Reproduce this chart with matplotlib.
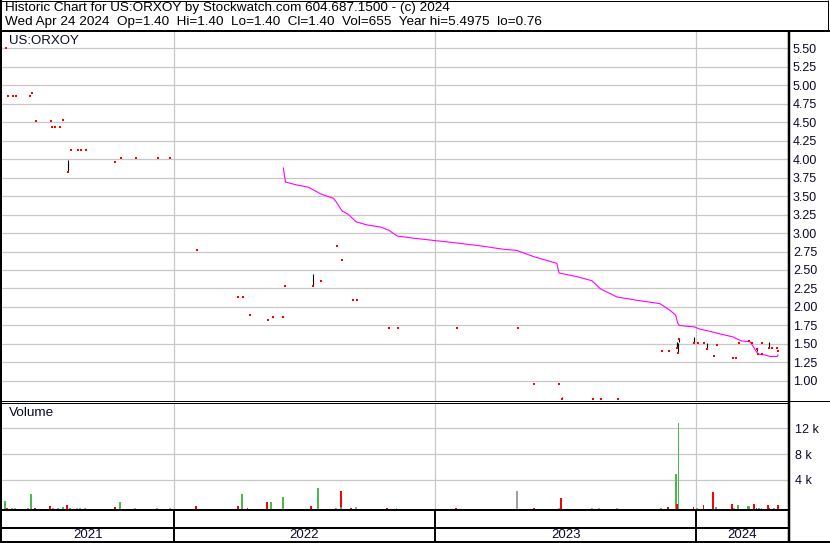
import numpy as np
import pandas as pd
import matplotlib
matplotlib.use("Agg")
import matplotlib.pyplot as plt
from matplotlib.lines import Line2D

plt.rcParams['font.family'] = ['Liberation Sans', 'DejaVu Sans']

# ---- data ----
close_dates = [
    '2021-05-12', '2021-05-14', '2021-05-21', '2021-05-26', '2021-06-14', '2021-06-17',
    '2021-06-23', '2021-07-13', '2021-07-15', '2021-07-19', '2021-07-26', '2021-07-30',
    '2021-08-06', '2021-08-10', '2021-08-20', '2021-08-24', '2021-08-31', '2021-10-11',
    '2021-10-19', '2021-11-09', '2021-12-10', '2021-12-27',
    '2022-02-03', '2022-04-01', '2022-04-08', '2022-04-18', '2022-05-13', '2022-05-19',
    '2022-06-03', '2022-06-06', '2022-07-14', '2022-07-25', '2022-08-17', '2022-08-24',
    '2022-09-08', '2022-09-14', '2022-10-28', '2022-11-10',
    '2023-01-31', '2023-04-27', '2023-05-19', '2023-06-23', '2023-06-27', '2023-08-10',
    '2023-08-21', '2023-09-14', '2023-11-14', '2023-11-24', '2023-12-05', '2023-12-06',
    '2023-12-08', '2023-12-29',
    '2024-01-03', '2024-01-12', '2024-01-16', '2024-01-25', '2024-01-30', '2024-02-21',
    '2024-02-26', '2024-03-01', '2024-03-15', '2024-03-19', '2024-03-25', '2024-03-27',
    '2024-04-01', '2024-04-02', '2024-04-11', '2024-04-15', '2024-04-22', '2024-04-24',
]
close_prices = [
    5.4975, 4.86, 4.86, 4.86, 4.86, 4.90,
    4.52, 4.51, 4.44, 4.44, 4.44, 4.53,
    3.83, 4.13, 4.13, 4.13, 4.13, 3.96,
    4.01, 4.01, 4.01, 4.01,
    2.77, 2.13, 2.13, 1.89, 1.82, 1.87,
    1.87, 2.29, 2.28, 2.35, 2.82, 2.64,
    2.09, 2.09, 1.72, 1.72,
    1.71, 1.71, 0.96, 0.96, 0.76, 0.76,
    0.76, 0.76, 1.41, 1.41, 1.44, 1.38,
    1.57, 1.51,
    1.51, 1.51, 1.43, 1.34, 1.48, 1.31,
    1.31, 1.51, 1.54, 1.51, 1.43, 1.36,
    1.36, 1.51, 1.45, 1.44, 1.44, 1.40,
]

range_dates = ['2021-08-06', '2022-07-14', '2023-06-27', '2023-12-05', '2023-12-06',
               '2023-12-08', '2023-12-29', '2024-01-16', '2024-03-25', '2024-04-11']
range_high = [3.99, 2.45, 0.78, 1.52, 1.51, 1.57, 1.60, 1.51, 1.45, 1.52]
range_low = [3.83, 2.28, 0.76, 1.44, 1.38, 1.52, 1.51, 1.43, 1.40, 1.45]

ma_dates = [
    '2022-06-03', '2022-06-06', '2022-06-22', '2022-07-08', '2022-07-15', '2022-07-25',
    '2022-08-12', '2022-08-17', '2022-08-24', '2022-09-02', '2022-09-13', '2022-09-28',
    '2022-10-17', '2022-10-28', '2022-11-09', '2022-12-02', '2022-12-30',
    '2023-01-27', '2023-03-03', '2023-04-07', '2023-04-25', '2023-05-19', '2023-06-20',
    '2023-06-23', '2023-07-18', '2023-08-08', '2023-08-20', '2023-09-12', '2023-10-10',
    '2023-11-11', '2023-11-25', '2023-12-03', '2023-12-06', '2023-12-08', '2023-12-18',
    '2023-12-29',
    '2024-01-06', '2024-01-20', '2024-02-03', '2024-02-21', '2024-02-26', '2024-03-04',
    '2024-03-16', '2024-03-20', '2024-03-25', '2024-03-28', '2024-04-06', '2024-04-13',
    '2024-04-23', '2024-04-24',
]
ma_values = [
    3.88, 3.69, 3.65, 3.62, 3.585, 3.53,
    3.47, 3.405, 3.30, 3.25, 3.15, 3.11,
    3.08, 3.04, 2.96, 2.93, 2.90,
    2.87, 2.83, 2.78, 2.765, 2.68, 2.59,
    2.46, 2.41, 2.355, 2.245, 2.135, 2.09,
    2.045, 1.955, 1.89, 1.78, 1.75, 1.74,
    1.73,
    1.70, 1.67, 1.635, 1.595, 1.57, 1.54,
    1.53, 1.47, 1.39, 1.36, 1.35, 1.33,
    1.33, 1.35,
]

vol_dates = [
    '2021-05-10', '2021-05-13', '2021-05-20', '2021-05-24', '2021-06-11', '2021-06-16',
    '2021-06-21', '2021-07-12', '2021-07-16', '2021-07-23', '2021-07-30', '2021-08-05',
    '2021-08-09', '2021-08-19', '2021-08-23', '2021-08-30', '2021-10-11', '2021-10-18',
    '2021-11-08', '2021-12-08', '2021-12-27',
    '2022-02-01', '2022-04-01', '2022-04-06', '2022-04-14', '2022-05-11', '2022-05-17',
    '2022-06-02', '2022-06-03', '2022-07-12', '2022-07-22', '2022-08-16', '2022-08-22',
    '2022-08-23', '2022-09-06', '2022-09-13', '2022-10-26', '2022-11-08',
    '2023-01-30', '2023-04-25', '2023-05-19', '2023-06-23', '2023-06-26', '2023-08-08',
    '2023-08-18', '2023-09-12', '2023-11-13', '2023-11-22', '2023-12-04', '2023-12-05',
    '2023-12-07', '2023-12-28',
    '2024-01-02', '2024-01-11', '2024-01-24', '2024-01-29', '2024-02-20', '2024-02-23',
    '2024-02-28', '2024-03-13', '2024-03-14', '2024-03-15', '2024-03-22', '2024-03-25',
    '2024-03-28', '2024-04-01', '2024-04-10', '2024-04-12', '2024-04-19', '2024-04-24',
]
vol_values = [
    1240, 200, 200, 200, 200, 2330,
    200, 470, 200, 200, 310, 620,
    200, 200, 200, 200, 360, 1130,
    200, 200, 200,
    510, 510, 2330, 200, 1130, 1130,
    880, 1860, 510, 3300, 200, 2840,
    310, 200, 360, 200, 200,
    200, 2840, 200, 200, 1750, 200,
    200, 200, 200, 360, 5430, 820,
    13380, 310,
    200, 620, 2680, 310, 820, 200,
    620, 470, 470, 470, 780, 200,
    200, 200, 620, 200, 200, 655,
]
# u = closed up, d = closed down, n = unchanged
vol_dir = (
    list('udnnnuddnnudunnndunnn')   # 2021
    + list('dduddunuduududndn')     # 2022
    + list('dndndnnnududud')        # 2023
    + list('nddudnuududduuddnd')    # 2024
)

years = ['2021', '2022', '2023', '2024']
price_ticks = np.arange(1.0, 5.51, 0.25)
vol_ticks = [4000, 8000, 12000]
vol_tick_labels = ['4 k', '8 k', '12 k']

header1 = "Historic Chart for US:ORXOY by Stockwatch.com 604.687.1500 - (c) 2024"
header2 = "Wed Apr 24 2024  Op=1.40  Hi=1.40  Lo=1.40  Cl=1.40  Vol=655  Year hi=5.4975  lo=0.76"

# ---- layout (pixels) ----
W, H = 830, 543
TXT = '#0a0a2a'
GRID = '#c8c8c8'
dir_color = {'u': '#4cb84c', 'd': '#ff0000', 'n': '#a0a0a0'}
x_start, x_end = pd.Timestamp('2021-05-06'), pd.Timestamp('2024-05-08')
vol_floor = -570


def rect(x0, y0, x1, y1):
    return [x0 / W, 1 - y1 / H, (x1 - x0) / W, (y1 - y0) / H]


def fig_line(fig, x0, y0, x1, y1, lw):
    fig.add_artist(Line2D([x0 / W, x1 / W], [1 - y0 / H, 1 - y1 / H],
                          transform=fig.transFigure, color='black', lw=lw * 0.72,
                          solid_capstyle='butt'))


fig = plt.figure(figsize=(W / 100, H / 100), dpi=100)

ax_p = fig.add_axes(rect(2, 31, 788, 400.5))
ax_v = fig.add_axes(rect(2, 402.5, 788, 509.5))
ax_s = fig.add_axes(rect(2, 510.5, 788, 526.5))
ax_y = fig.add_axes(rect(2, 528.5, 788, 540.5))

year_starts = [pd.Timestamp(y + '-01-01') for y in years[1:]]

for ax in (ax_p, ax_v, ax_s, ax_y):
    ax.set_xlim(x_start, x_end)
    for s in ax.spines.values():
        s.set_visible(False)
    ax.set_xticks(year_starts)
    ax.tick_params(axis='x', length=0, labelbottom=False)

# price panel
ax_p.plot(pd.to_datetime(ma_dates), ma_values, color='#ff00ff', lw=0.8, zorder=2)
ax_p.vlines(pd.to_datetime(range_dates), range_low, range_high, color='black', lw=0.8, zorder=3)
ax_p.plot(pd.to_datetime(close_dates), close_prices, 's', color='#ff0000', ms=1.8, mew=0, zorder=4)
ax_p.set_ylim(0.734, 5.734)
ax_p.set_yticks(price_ticks)
ax_p.set_yticklabels([f'{v:.2f}' for v in price_ticks])
ax_p.yaxis.tick_right()
ax_p.tick_params(axis='y', length=0, pad=3.6, labelsize=9, labelcolor=TXT)
ax_p.grid(True, color=GRID, lw=0.9)
ax_p.set_axisbelow(True)
ax_p.text(7 / 786, 1 - 10 / 369.5, 'US:ORXOY', transform=ax_p.transAxes,
          fontsize=9.5, color=TXT, va='center', ha='left')

# volume panel
vcolors = [dir_color[c] for c in vol_dir]
ax_v.bar(pd.to_datetime(vol_dates), vol_values, bottom=vol_floor, width=2.6,
         color=vcolors, lw=0, zorder=3)
ax_v.set_ylim(vol_floor, 16000)
ax_v.set_yticks(vol_ticks)
ax_v.set_yticklabels(vol_tick_labels)
ax_v.yaxis.tick_right()
ax_v.tick_params(axis='y', length=0, pad=5, labelsize=9, labelcolor=TXT)
ax_v.grid(True, color=GRID, lw=0.9)
ax_v.set_axisbelow(True)
ax_v.text(7 / 786, 1 - 10.5 / 107, 'Volume', transform=ax_v.transAxes,
          fontsize=9.7, color=TXT, va='center', ha='left')

# bottom strips
for ax in (ax_s, ax_y):
    ax.set_yticks([])
    for ys in year_starts:
        ax.axvline(ys, color='black', lw=1.4)

bounds = [x_start] + year_starts + [x_end]
for i, y in enumerate(years):
    mid = bounds[i] + (bounds[i + 1] - bounds[i]) / 2
    ax_y.text(mid, 0.45, y, transform=ax_y.get_xaxis_transform(), ha='center',
              va='center', fontsize=9.5, color=TXT)

# frame
fig_line(fig, 0, 0.5, 828, 0.5, 1)
fig_line(fig, 827.5, 0, 827.5, 30, 1)
fig_line(fig, 1, 0, 1, 543, 2)
fig_line(fig, 0, 30.5, 830, 30.5, 2)
fig_line(fig, 788.5, 30, 788.5, 543, 2.5)
fig_line(fig, 0, 400.5, 788, 400.5, 1)
fig_line(fig, 0, 402.5, 788, 402.5, 1)
fig_line(fig, 788, 401, 830, 401, 1)
fig_line(fig, 0, 509.5, 788, 509.5, 2)
fig_line(fig, 0, 527.5, 788, 527.5, 2)
fig_line(fig, 0, 541.5, 830, 541.5, 2)

fig.text(5 / W, 1 - 8.5 / H, header1, fontsize=9.7, color='black', va='center', ha='left')
fig.text(5 / W, 1 - 22.5 / H, header2, fontsize=9.7, color='black', va='center', ha='left')

fig.savefig('out.png', dpi=100)
